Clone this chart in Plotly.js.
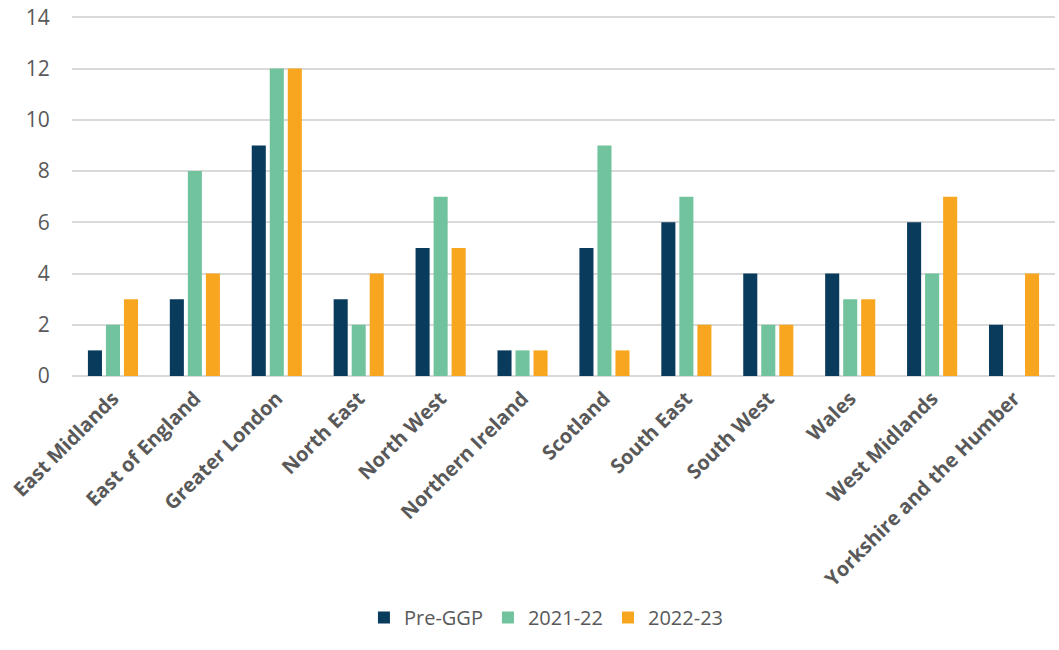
<!DOCTYPE html>
<html>
<head>
<meta charset="utf-8">
<script src="https://cdn.plot.ly/plotly-3.0.1.min.js"></script>
<style>html,body{margin:0;padding:0;background:#fff;}#chart{width:1059px;height:650px;}</style>
</head>
<body>
<div id="chart"></div>
<script>
const regions = ["East Midlands","East of England","Greater London","North East","North West","Northern Ireland","Scotland","South East","South West","Wales","West Midlands","Yorkshire and the Humber"];
const preGGP = [1,3,9,3,5,1,5,6,4,4,6,2];
const y2021_22 = [2,8,12,2,7,1,9,7,2,3,4,0];
const y2022_23 = [3,4,12,4,5,1,1,2,2,3,7,4];
const yTickVals = [0,2,4,6,8,10,12,14];
const seriesNames = ["Pre-GGP","2021-22","2022-23"];
const colors = ["#093b5c","#71c39d","#f8a61f"];

const data = [preGGP, y2021_22, y2022_23].map((vals, i) => ({
  type: "bar",
  x: regions,
  y: vals,
  name: seriesNames[i],
  marker: {color: colors[i]},
  hoverinfo: "x+y+name"
}));

const layout = {
  width: 1059, height: 650,
  margin: {l: 72, r: 4, t: 16, b: 274},
  paper_bgcolor: "#fff", plot_bgcolor: "#fff",
  barmode: "group",
  bargap: 0.34,
  bargroupgap: 0.22,
  font: {family: "Open Sans, sans-serif", size: 19, color: "#595959"},
  xaxis: {
    type: "category",
    tickangle: -45,
    tickfont: {family: "Open Sans, sans-serif", size: 20, color: "#595959", weight: "bold"},
    showgrid: false, zeroline: false, showline: false,
    ticks: "outside", ticklen: 2, tickcolor: "rgba(0,0,0,0)", automargin: false
  },
  yaxis: {
    range: [0, 14.05],
    tickmode: "array",
    tickvals: yTickVals,
    ticktext: yTickVals.map(String),
    tickfont: {family: "Open Sans, sans-serif", size: 21, color: "#595959"},
    showgrid: true, gridcolor: "#d9d9d9", gridwidth: 1.5,
    zeroline: true, zerolinecolor: "#d9d9d9", zerolinewidth: 1.5,
    showline: false,
    ticks: "outside", ticklen: 17, tickcolor: "rgba(0,0,0,0)",
    automargin: false
  },
  showlegend: true,
  legend: {
    orientation: "h",
    xref: "container", yref: "container",
    x: 0.516, xanchor: "center",
    y: 0.02, yanchor: "bottom",
    font: {family: "Open Sans, sans-serif", size: 20, color: "#595959"},
    itemwidth: 30,
    tracegroupgap: 0
  }
};

Plotly.newPlot("chart", data, layout, {displayModeBar: false, staticPlot: false});
</script>
</body>
</html>
